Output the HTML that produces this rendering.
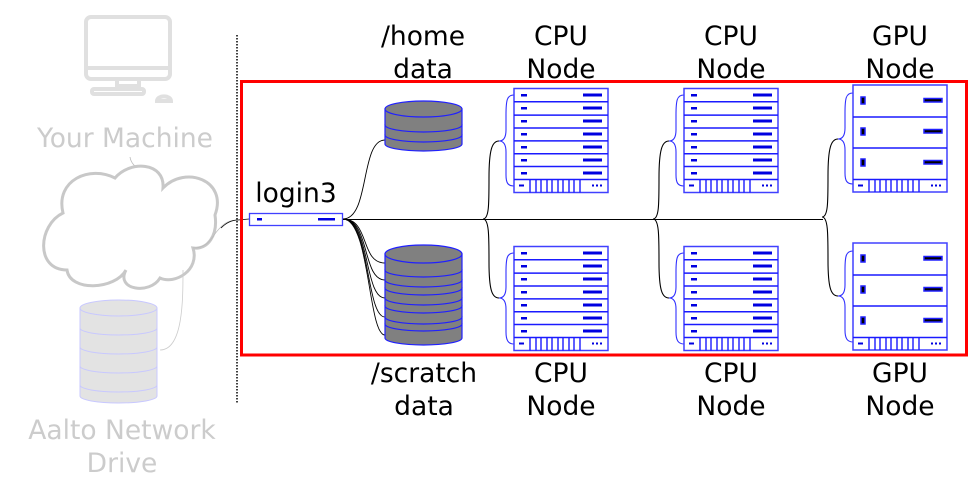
<!DOCTYPE html>
<html><head><meta charset="utf-8"><style>
html,body{margin:0;padding:0;background:#fff;}
svg{display:block;}
text{font-family:"DejaVu Sans","Liberation Sans",sans-serif;font-size:26.5px;text-anchor:middle;}
</style></head><body>
<svg width="977" height="488" viewBox="0 0 977 488" xmlns="http://www.w3.org/2000/svg">
<defs>
<g id="cpu">
<rect x="0" y="0" width="94" height="104" fill="#fff" stroke="#4040ff" stroke-width="1.5"/>
<g stroke="#1a1aff" stroke-width="1.5">
<line x1="0" y1="13.3" x2="94" y2="13.3"/><line x1="0" y1="26.6" x2="94" y2="26.6"/>
<line x1="0" y1="39.5" x2="94" y2="39.5"/><line x1="0" y1="52.4" x2="94" y2="52.4"/>
<line x1="0" y1="65.2" x2="94" y2="65.2"/><line x1="0" y1="78" x2="94" y2="78"/>
<line x1="0" y1="91" x2="94" y2="91"/>
</g>
<g fill="#0000e0">
<rect x="7" y="5.5" width="6" height="2.5"/><rect x="69" y="5" width="19" height="3"/>
<rect x="7" y="18.5" width="6" height="2.5"/><rect x="69" y="18" width="19" height="3"/>
<rect x="7" y="31.5" width="6" height="2.5"/><rect x="69" y="31" width="19" height="3"/>
<rect x="7" y="44.5" width="6" height="2.5"/><rect x="69" y="44" width="19" height="3"/>
<rect x="7" y="57.5" width="6" height="2.5"/><rect x="69" y="57" width="19" height="3"/>
<rect x="7" y="70.5" width="6" height="2.5"/><rect x="69" y="70" width="19" height="3"/>
<rect x="7" y="83.5" width="6" height="2.5"/><rect x="69" y="83" width="19" height="3"/>
<rect x="5" y="96" width="5" height="2"/>
<rect x="78" y="96" width="2" height="2"/><rect x="82" y="96" width="2" height="2"/><rect x="86" y="96" width="2" height="2"/>
</g>
<g stroke="#1a1aff" stroke-width="1.4">
<line x1="16" y1="91" x2="16" y2="104"/><line x1="22" y1="91" x2="22" y2="104"/><line x1="27" y1="91" x2="27" y2="104"/>
<line x1="33" y1="91" x2="33" y2="104"/><line x1="38" y1="91" x2="38" y2="104"/><line x1="44" y1="91" x2="44" y2="104"/>
<line x1="49" y1="91" x2="49" y2="104"/><line x1="55" y1="91" x2="55" y2="104"/><line x1="60" y1="91" x2="60" y2="104"/>
<line x1="66" y1="91" x2="66" y2="104"/>
</g>
</g>
<g id="gpu">
<rect x="0" y="0" width="94" height="107" fill="#fff" stroke="#4040ff" stroke-width="1.5"/>
<g stroke="#1a1aff" stroke-width="1.5">
<line x1="0" y1="32" x2="94" y2="32"/><line x1="0" y1="63" x2="94" y2="63"/><line x1="0" y1="94.5" x2="94" y2="94.5"/>
</g>
<g fill="#000" stroke="#2020ff" stroke-width="1.5">
<rect x="8" y="12" width="4" height="7"/><rect x="71" y="13.5" width="18" height="3.5"/>
<rect x="8" y="43" width="4" height="7"/><rect x="71" y="44.5" width="18" height="3.5"/>
<rect x="8" y="74" width="4" height="7"/><rect x="71" y="75.5" width="18" height="3.5"/>
</g>
<g fill="#0000e0"><rect x="5" y="99.5" width="5" height="2"/>
<rect x="78" y="99.5" width="2" height="2"/><rect x="82" y="99.5" width="2" height="2"/><rect x="86" y="99.5" width="2" height="2"/></g>
<g stroke="#1a1aff" stroke-width="1.4">
<line x1="16" y1="94.5" x2="16" y2="107"/><line x1="22" y1="94.5" x2="22" y2="107"/><line x1="27" y1="94.5" x2="27" y2="107"/>
<line x1="33" y1="94.5" x2="33" y2="107"/><line x1="38" y1="94.5" x2="38" y2="107"/><line x1="44" y1="94.5" x2="44" y2="107"/>
<line x1="49" y1="94.5" x2="49" y2="107"/><line x1="55" y1="94.5" x2="55" y2="107"/><line x1="60" y1="94.5" x2="60" y2="107"/>
<line x1="66" y1="94.5" x2="66" y2="107"/>
</g>
</g>
<g id="conn">
<path d="M483,219 C489,219 489,205 489,178 C489,150 492,141 499,141" fill="none" stroke="#000" stroke-width="1.1"/>
<path d="M483,219 C489,219 489,235 489,262 C489,290 492,298 499,298" fill="none" stroke="#000" stroke-width="1.1"/>
<path d="M514,95 C507,95 506,100 506,115 L506,130 C506,138 503,141 499,141 C503,141 506,144 506,152 L506,175 C506,183 508,186 514,186" fill="none" stroke="#3030ff" stroke-width="1.1"/>
<path d="M514,253 C507,253 506,258 506,272 L506,287 C506,295 503,298 499,298 C503,298 506,301 506,309 L506,332 C506,340 508,344 514,344" fill="none" stroke="#3030ff" stroke-width="1.1"/>
</g>
</defs>

<!-- left side (faded) -->
<g fill="none" stroke="#e0e0e0" stroke-width="4">
<rect x="86" y="17" width="84" height="62" rx="5"/>
<line x1="86" y1="68" x2="170" y2="68"/>
<rect x="117" y="79" width="22" height="7"/>
<rect x="92" y="89" width="52" height="5" rx="2"/>
<path d="M157,101 a6,4 0 0 1 14,0 z"/>
</g>
<text x="125" y="147" fill="#cccccc">Your Machine</text>
<path d="M130,157 C132,172 155,172 157,193" fill="none" stroke="#bbb" stroke-width="0.8"/>
<path d="M63,213 C55,180 90,165 115,178 C130,160 165,162 163,188 C185,165 228,180 215,215 C218,235 208,250 193,248 C200,270 175,285 160,278 C150,295 115,290 126,270 C115,290 70,292 67,270 C35,270 38,225 63,213 Z" fill="#fff" stroke="#c8c8c8" stroke-width="3"/>
<path d="M193,248 C210,248 212,235 220,228 C225,222 232,220 238,220" fill="none" stroke="#bbb" stroke-width="0.8"/>
<path d="M221,228 C226,223 232,220 238,220 L249,219" fill="none" stroke="#000" stroke-width="0.8"/>
<path d="M183,270 C183,300 183,350 160,350" fill="none" stroke="#ccc" stroke-width="0.8"/>
<g fill="#e3e3e3" stroke="#c8c8ff" stroke-width="1">
<path d="M80,385 L80,396 A38.5,7 0 0 0 157,396 L157,385 Z"/>
<path d="M80,366 L80,385 A38.5,7 0 0 0 157,385 L157,366 Z"/>
<path d="M80,347 L80,366 A38.5,7 0 0 0 157,366 L157,347 Z"/>
<path d="M80,328 L80,347 A38.5,7 0 0 0 157,347 L157,328 Z"/>
<path d="M80,308 L80,328 A38.5,7 0 0 0 157,328 L157,308 Z"/>
<ellipse cx="118.5" cy="308" rx="38.5" ry="8"/>
</g>
<text x="122" y="439" fill="#cccccc">Aalto Network</text>
<text x="122" y="472" fill="#cccccc">Drive</text>

<line x1="237" y1="35" x2="237" y2="403" stroke="#000" stroke-width="1.5" stroke-dasharray="1.5,1.5"/>
<rect x="241.5" y="81.5" width="725" height="273.5" fill="none" stroke="#ff0000" stroke-width="3"/>

<!-- login3 -->
<text x="296" y="202">login3</text>
<rect x="249.5" y="213.5" width="93" height="12" fill="#fff" stroke="#4040ff" stroke-width="1.3"/>
<rect x="257" y="218" width="5" height="2.5" fill="#0000e0"/>
<rect x="318" y="218" width="17" height="2.5" fill="#0000e0"/>
<line x1="343" y1="219.5" x2="823" y2="219.5" stroke="#000" stroke-width="1.1"/>

<!-- disk connectors -->
<g fill="none" stroke="#000" stroke-width="0.9">
<path d="M343,219 C370,219 360,140 385,140"/>
<path d="M343,219 C370,219 360,263 385,263"/>
<path d="M343,219 C370,219 362,280 385,280"/>
<path d="M343,219 C370,219 364,298 385,298"/>
<path d="M343,219 C370,219 366,317 385,317"/>
<path d="M343,219 C370,219 368,335 385,335"/>
</g>

<!-- home disk -->
<g fill="#808080" stroke="#2020ff" stroke-width="1.2">
<path d="M385,135 L385,144 A38.5,7 0 0 0 462,144 L462,135 Z"/>
<path d="M385,125 L385,135 A38.5,7 0 0 0 462,135 L462,125 Z"/>
<path d="M385,109 L385,125 A38.5,7 0 0 0 462,125 L462,109 Z"/>
<ellipse cx="423.5" cy="109" rx="38.5" ry="8"/>
</g>
<!-- scratch disk -->
<g fill="#808080" stroke="#2020ff" stroke-width="1.2">
<path d="M385,324 L385,338 A38.5,7 0 0 0 462,338 L462,324 Z"/>
<path d="M385,317 L385,324 A38.5,7 0 0 0 462,324 L462,317 Z"/>
<path d="M385,306 L385,317 A38.5,7 0 0 0 462,317 L462,306 Z"/>
<path d="M385,298 L385,306 A38.5,7 0 0 0 462,306 L462,298 Z"/>
<path d="M385,288 L385,298 A38.5,7 0 0 0 462,298 L462,288 Z"/>
<path d="M385,280 L385,288 A38.5,7 0 0 0 462,288 L462,280 Z"/>
<path d="M385,270 L385,280 A38.5,7 0 0 0 462,280 L462,270 Z"/>
<path d="M385,254 L385,270 A38.5,7 0 0 0 462,270 L462,254 Z"/>
<ellipse cx="423.5" cy="254" rx="38.5" ry="9"/>
</g>

<!-- connectors & braces -->
<use href="#conn"/>
<use href="#conn" transform="translate(170,0)"/>
<use href="#conn" transform="translate(339,-2)"/>

<!-- servers -->
<use href="#cpu" transform="translate(514,88.5)"/>
<use href="#cpu" transform="translate(684,88.5)"/>
<use href="#gpu" transform="translate(853,85)"/>
<use href="#cpu" transform="translate(514,246.5)"/>
<use href="#cpu" transform="translate(684,246.5)"/>
<use href="#gpu" transform="translate(853,243)"/>

<!-- labels -->
<g fill="#000">
<text x="423" y="45">/home</text><text x="423" y="78">data</text>
<text x="561" y="45">CPU</text><text x="561" y="78">Node</text>
<text x="731" y="45">CPU</text><text x="731" y="78">Node</text>
<text x="900" y="45">GPU</text><text x="900" y="78">Node</text>
<text x="424" y="382">/scratch</text><text x="424" y="415">data</text>
<text x="561" y="382">CPU</text><text x="561" y="415">Node</text>
<text x="731" y="382">CPU</text><text x="731" y="415">Node</text>
<text x="900" y="382">GPU</text><text x="900" y="415">Node</text>
</g>
</svg>
</body></html>
